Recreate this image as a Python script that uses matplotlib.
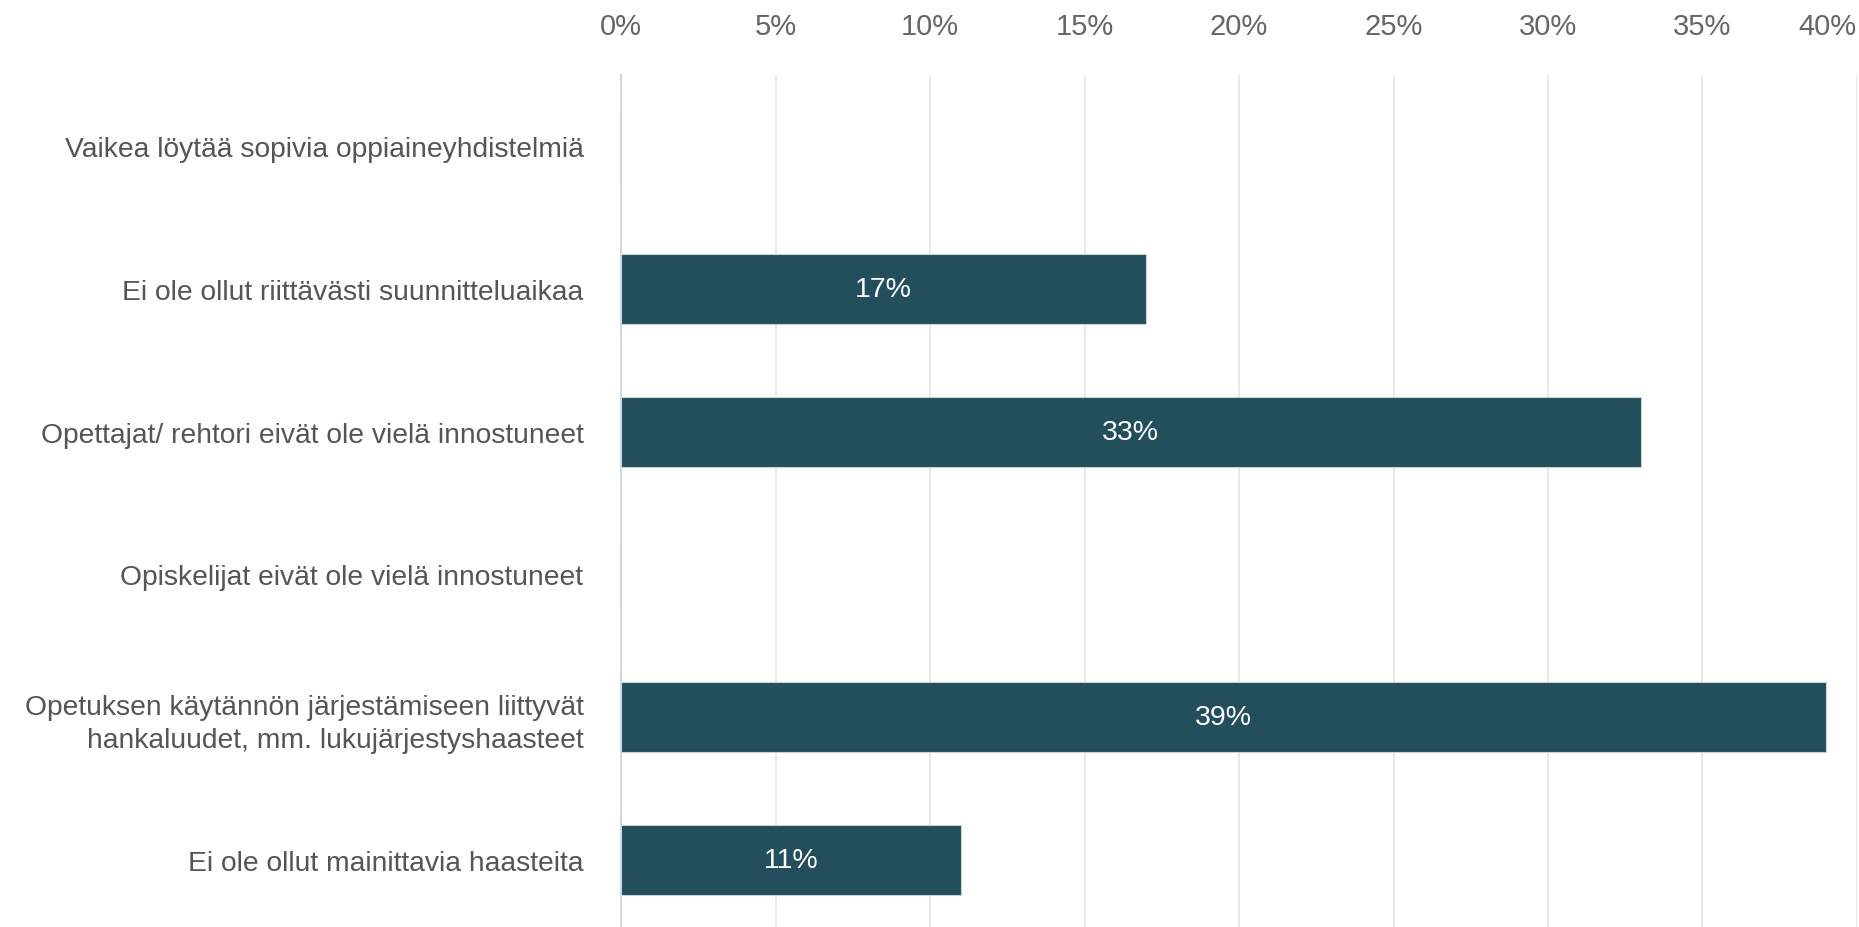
import matplotlib
matplotlib.use("Agg")
import matplotlib.pyplot as plt
from matplotlib.ticker import FuncFormatter

categories = [
    "Vaikea löytää sopivia oppiaineyhdistelmiä",
    "Ei ole ollut riittävästi suunnitteluaikaa",
    "Opettajat/ rehtori eivät ole vielä innostuneet",
    "Opiskelijat eivät ole vielä innostuneet",
    "Opetuksen käytännön järjestämiseen liittyvät\nhankaluudet, mm. lukujärjestyshaasteet",
    "Ei ole ollut mainittavia haasteita",
]
values = [0, 17, 33, 0, 39, 11]
x_ticks = [0, 5, 10, 15, 20, 25, 30, 35, 40]

W, H = 1859, 928
fig = plt.figure(figsize=(W / 100, H / 100), dpi=100)
plt.rcParams['font.family'] = ['Liberation Sans', 'DejaVu Sans']

band = 142.8
top_px = 75.6
left_px, right_px = 621, 1857
ax = fig.add_axes([left_px / W, (H - (top_px + 6 * band)) / H,
                   (right_px - left_px) / W, 6 * band / H])

bar_color = "#234e5c"
y = list(range(len(categories)))
ax.barh(y, values, height=0.49, color=bar_color, edgecolor="#c8d3d6",
        linewidth=0.8, zorder=3)
for yi, v in zip(y, values):
    if v > 0:
        ax.text(v / 2, yi, f"{v}%", ha="center", va="center", color="white",
                fontsize=20.5, zorder=4)

ax.set_xlim(0, 40)
ax.set_ylim(len(categories) - 0.5, -0.5)
ax.set_xticks(x_ticks)
ax.xaxis.set_major_formatter(FuncFormatter(lambda v, p: f"{v:.0f}%"))
ax.xaxis.tick_top()
ax.tick_params(axis="x", length=0, pad=25, labelsize=21, labelcolor="#666666")
xt = ax.get_xticklabels()
xt[-1].set_horizontalalignment("right")
ax.set_yticks(y)
ax.set_yticklabels(categories, linespacing=1.35)
ax.tick_params(axis="y", length=0, pad=27, labelsize=20.3, labelcolor="#555555")
ax.grid(axis="x", color="#e6e6e6", linewidth=1.2, zorder=0)
ax.set_axisbelow(True)
for s in ["top", "right", "bottom"]:
    ax.spines[s].set_visible(False)
ax.spines["left"].set_color("#ccd6eb")
ax.spines["left"].set_linewidth(1.4)
ax.spines["left"].set_zorder(5)

fig.savefig("out.png", dpi=100)
